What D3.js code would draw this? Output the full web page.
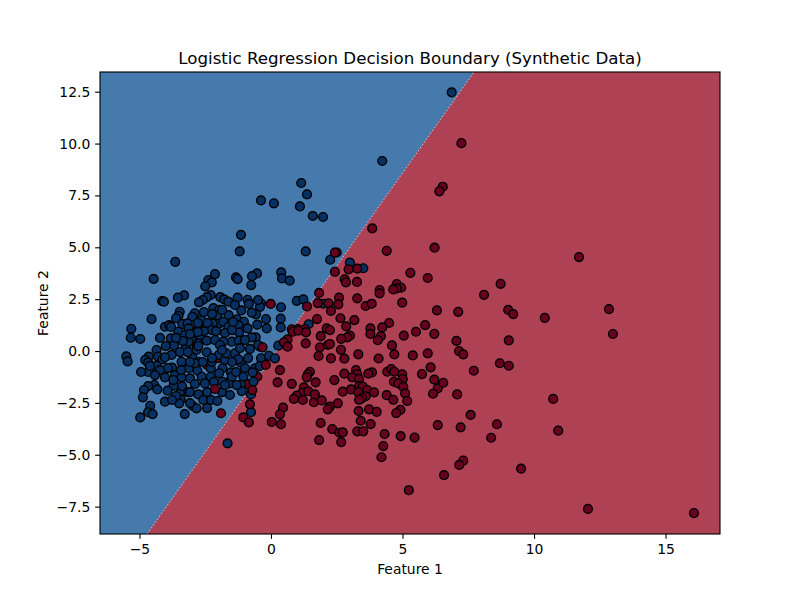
<!DOCTYPE html>
<html>
<head>
<meta charset="utf-8">
<script src="https://cdn.jsdelivr.net/npm/d3@7"></script>
<style>
  body { margin: 0; background: #fff; }
  text { font-family: "DejaVu Sans", sans-serif; fill: #000; }
</style>
</head>
<body>
<div id="chart"></div>
<script>
// axis limits and ticks
const xLimits = [-6.5, 17.07];
const yLimits = [-8.82, 13.45];
const xTicks = [-5, 0, 5, 10, 15];
const yTicks = [-7.5, -5, -2.5, 0, 2.5, 5, 7.5, 10, 12.5];

// decision boundary, read where it leaves the axes
const boundaryX = [-4.71, 7.72];
const boundaryY = [-8.82, 13.45];

// class 1 points that sit underneath the blue cloud
const redBehind = [[-2.42,-0.67],[-1.98,-0.34],[-0.52,-1.24],[-0.91,-1.60]];

// class 0 points [feature 1, feature 2]
const bluePoints = [
  [6.87,12.47],[4.23,9.16],[1.15,8.10],[1.37,7.55],[-0.38,7.26],[0.11,7.12],[1.10,6.97],[1.59,6.51],[1.98,6.46],
  [-1.14,5.60],[-1.19,4.80],[1.32,4.80],[-3.64,4.30],[-4.46,3.48],[-2.13,3.71],[-2.38,3.42],[-2.25,3.31],[-2.50,3.12],
  [-2.29,2.70],[-2.44,2.60],[-2.59,2.46],[-2.74,2.35],[-3.30,2.68],[-3.54,2.57],[-4.14,2.41],[-4.07,2.38],[-1.93,2.60],
  [-1.78,2.49],[-1.62,2.38],[-2.19,2.07],[-1.97,1.98],[-2.04,1.72],[-1.61,1.73],[-3.47,1.89],[-3.52,1.69],[-2.90,1.82],
  [-2.99,1.65],[-2.65,1.48],[-3.61,1.58],[-4.54,1.54],[-5.31,1.07],[-4.03,1.17],[-3.87,1.25],[-3.80,1.16],[-3.37,1.30],
  [-3.17,1.33],[-2.76,1.17],[-3.13,1.09],[-2.00,1.30],[-2.22,1.33],[-1.81,1.41],[-1.62,1.17],[-5.33,0.64],[-4.97,0.58],
  [-5.50,-0.26],[-5.45,-0.50],[-3.81,0.61],[-3.52,0.93],[-2.78,1.35],[-2.41,1.35],[-2.25,1.01],[-1.75,0.87],[-2.44,0.50],
  [-2.13,0.53],[-3.18,0.61],[-2.83,0.53],[-3.23,0.21],[-3.69,0.27],[-4.00,0.24],[-4.35,0.05],[-4.65,-0.27],[-4.78,-0.43],
  [-4.29,-0.27],[-3.78,-0.19],[-4.13,-0.40],[-4.35,-0.71],[-4.67,-1.01],[-3.76,-0.80],[-3.40,-0.52],[-2.99,-0.32],
  [-2.83,0.18],[-2.44,-0.06],[-1.98,-0.19],[-1.75,-0.43],[-3.12,-0.83],[-2.80,-0.95],[-2.29,-0.83],[-1.84,-0.83],
  [-3.65,-1.16],[-4.03,-1.27],[-3.40,-1.27],[-3.08,-1.32],[-2.63,-1.24],[-2.29,-1.24],[-1.97,-1.07],[-1.62,-1.51],
  [-2.89,-1.59],[-2.51,-1.56],[-4.44,-1.64],[-4.67,-1.69],[-4.83,-1.88],[-4.32,-1.85],[-3.70,-1.67],[-3.93,-1.91],
  [-3.17,-1.98],[-2.76,-2.09],[-3.46,-2.04],[-4.87,-2.23],[-3.43,-2.33],[-3.49,-2.52],[-4.03,-2.44],[-2.57,-2.36],
  [-2.28,-2.36],[-2.04,-2.41],[-2.98,-2.64],[-2.83,-2.76],[-4.59,-2.64],[-4.67,-2.95],[-4.50,-3.04],[-4.97,-3.20],
  [-3.28,-3.04],[-1.33,3.55],[-1.27,3.47],[-0.53,3.74],[-0.72,3.61],[-0.75,3.18],[0.39,3.79],[0.42,3.50],[0.71,3.39],
  [-1.27,2.57],[-0.89,2.47],[-0.84,2.27],[-0.38,2.30],[-0.42,2.13],[0.38,2.11],[0.98,2.42],[1.23,2.49],[1.99,2.28],
  [2.25,4.40],[3.00,4.26],[3.51,3.99],[1.43,1.29],[0.37,1.56],[0.37,1.14],[-0.19,1.54],[-0.16,1.09],[-0.52,1.27],
  [-0.57,1.77],[-0.73,1.85],[-1.13,1.96],[-1.29,1.53],[-1.03,1.41],[-1.24,1.25],[-0.89,1.09],[-0.58,0.66],[-0.73,0.66],
  [-1.21,0.90],[-1.49,0.45],[-1.22,0.50],[-0.80,0.10],[-0.42,0.21],[-0.38,-0.35],[-0.08,-0.23],[0.15,-0.35],[0.28,0.26],
  [-1.37,-0.11],[-1.70,-0.11],[-1.15,-0.56],[-1.52,-1.03],[-0.61,-0.83],[-0.70,-1.03],[-1.05,-1.24],[-1.57,-1.56],
  [-1.14,-1.64],[-0.67,-1.48],[-1.11,-1.93],[-0.76,-2.09],[-0.76,-2.95],[-1.65,-4.45],
  [-4.03,-0.30],[-4.67,-0.56],[-3.02,0.53],[-3.14,0.45],[-2.76,0.37],[-2.83,0.05],[-3.42,-0.92],[-3.71,-1.40],[-3.27,0.77],
  [-2.83,0.93],[-2.76,-0.52],[-2.76,0.24],[-1.81,0.45],[-1.24,-0.40],[-2.25,-0.52],[-1.85,-1.48],[-1.49,-1.24],
  [-1.30,-1.64],[-2.70,0.77],[-2.89,-0.59],
  [-3.35,0.48],[-3.46,-0.05],[-3.16,-0.05],[-2.55,0.96],[-2.09,0.96],[-1.94,0.29],[-1.48,1.01],[-1.18,0.14],[-1.48,-0.53],
  [-1.86,0.05],[-2.24,-0.34],[-2.59,-0.53],[-3.08,-0.53],[-3.92,-0.82],[-3.38,-1.69],[-4.22,-0.92],[-4.41,-1.16],
  [-3.61,-2.17],[-3.08,-1.98],[-2.43,-1.98],[-2.17,-1.49],[-1.86,-1.98],[-1.56,-2.12],[-1.33,-1.01],[-0.99,0.53],
  [-0.49,0.29],[-2.78,0.92],[-2.55,1.88],[-2.24,1.78],[-1.86,1.98],[-1.37,2.22],[-3.08,0.82],[-3.61,0.63],[-4.22,0.63],
  [-4.60,-0.72],[-4.94,-1.01],[-3.76,-2.36],[-3.08,-2.51],[-2.43,-2.75],[-1.75,-1.64],[-0.42,-0.72],[-0.87,-0.34],
  [-0.99,-0.82],[-1.44,1.40],[-0.49,2.46]
];

// class 1 points [feature 1, feature 2]
const redPoints = [
  [-2.13,-1.83],[-1.90,-3.00],[-0.01,2.27],[-0.32,0.18],[-0.20,-0.67],[-0.71,-1.88],
  [3.85,5.91],[7.24,10.02],[6.53,7.92],[6.40,7.70],[4.40,4.83],[6.22,4.98],[2.50,4.75],[2.43,4.74],[2.43,3.82],[1.83,2.80],
  [1.37,2.15],[1.78,2.31],[2.19,2.30],[2.28,1.93],[1.75,1.54],[0.79,1.05],[1.02,1.06],[1.29,1.05],[2.12,1.09],[0.83,0.93],
  [1.04,0.98],[1.33,0.90],[0.63,0.56],[0.49,0.42],[0.63,0.21],[1.32,0.37],[1.89,0.72],[1.86,0.18],[2.16,0.29],[1.81,-0.24],
  [2.28,-0.35],[0.34,-0.92],[1.48,-1.00],[1.40,-1.12],[1.36,-1.27],[1.70,-1.51],[1.25,-1.75],[1.19,-2.01],[1.42,-1.94],
  [0.98,-2.15],[0.87,-2.31],[1.21,-2.36],[1.63,-2.47],[1.67,-2.09],[1.93,-2.38],[2.24,-2.68],[2.16,-2.81],[1.89,-3.47],
  [2.33,-3.76],[1.83,-4.29],[2.41,-1.40],[0.25,-1.51],[0.79,-1.58],[0.46,-2.73],[0.34,-3.05],[0.03,-3.42],[0.38,-3.53],
  [-0.80,-2.57],[-1.05,-3.20],[-0.84,-3.44],[2.95,3.94],[3.28,3.97],[5.30,3.77],[5.96,3.52],[2.80,3.46],[2.85,3.31],
  [3.27,3.33],[4.78,3.23],[4.95,3.05],[4.78,3.02],[4.65,2.97],[4.13,2.94],[4.13,2.78],[2.59,2.57],[3.28,2.54],[2.56,2.25],
  [3.60,2.17],[3.83,2.28],[4.99,2.33],[6.31,1.96],[2.64,1.58],[3.17,1.49],[2.86,1.19],[4.49,1.35],[4.23,1.14],[5.86,1.25],
  [3.78,1.09],[5.51,0.93],[6.21,0.83],[3.78,0.82],[4.18,0.72],[4.06,0.52],[5.05,0.74],[3.00,0.74],[2.90,0.66],[2.67,0.59],
  [4.60,0.27],[2.66,0.06],[3.32,-0.16],[4.69,-0.16],[5.39,-0.21],[5.96,-0.11],[4.09,-0.36],[2.79,-0.37],[2.24,1.01],[2.24,0.34],
  [3.23,-0.92],[2.79,-1.09],[3.84,-1.03],[3.70,-1.09],[4.42,-1.00],[4.57,-0.87],[4.69,-1.00],[4.99,-1.12],[6.07,-0.79],
  [5.74,-1.11],[3.28,-1.12],[3.09,-1.27],[3.35,-1.35],[5.01,-1.35],[4.67,-1.48],[6.21,-1.38],[4.84,-1.56],[3.35,-1.69],
  [5.03,-1.73],[3.49,-1.72],[6.34,-1.80],[3.04,-1.85],[2.73,-1.96],[3.66,-1.88],[3.32,-1.99],[3.92,-1.99],[5.10,-2.04],
  [6.16,-2.06],[4.40,-2.13],[3.60,-2.18],[3.45,-2.28],[3.35,-2.35],[4.65,-2.35],[5.18,-2.41],[2.54,-2.52],[3.73,-2.81],
  [3.33,-2.89],[4.02,-2.93],[4.92,-2.84],[4.76,-2.99],[3.41,-3.36],[3.79,-3.52],[6.34,-3.57],[2.60,-3.94],[2.73,-3.92],
  [3.28,-3.87],[3.51,-3.87],[4.32,-4.00],[4.93,-4.10],[5.46,-4.17],[2.67,-4.39],[4.27,-4.58],[4.20,-5.12],
  [8.73,3.24],[8.10,2.71],[7.12,1.89],[9.02,1.98],[9.21,1.78],[10.41,1.60],[7.05,0.49],[9.04,0.51],[7.15,0.00],[7.31,-0.16],
  [8.70,-0.59],[9.04,-0.71],[7.71,-0.95],[6.55,-1.53],[7.08,-2.09],[10.73,-2.31],[7.59,-3.08],[7.21,-3.68],[8.59,-3.53],
  [10.92,-3.84],[8.37,-4.18],[7.31,-5.28],[7.16,-5.49],[9.51,-5.67],[6.58,-5.98],[5.24,-6.71],[11.71,4.53],[12.85,2.02],
  [13.00,0.82],[12.05,-7.61],[16.08,-7.81]
];

// Set margins and dimensions for the SVG container
const margin = { top: 72, right: 80, bottom: 66, left: 100 };
const width = 800 - margin.left - margin.right;
const height = 600 - margin.top - margin.bottom;

const xScale = d3.scaleLinear().domain(xLimits).range([0, width]);
const yScale = d3.scaleLinear().domain(yLimits).range([height, 0]);

const root = d3.select("#chart").append("svg")
  .attr("width", 800)
  .attr("height", 600)
  .style("display", "block");

const svg = root.append("g")
  .attr("transform", `translate(${margin.left},${margin.top})`);

svg.append("clipPath").attr("id", "plot-area")
  .append("rect")
  .attr("width", width)
  .attr("height", height);

// Decision regions: blue everywhere, red to the right of the boundary
svg.append("rect")
  .attr("width", width)
  .attr("height", height)
  .attr("fill", "#4679ac");

const redRegion = [
  [boundaryX[0], boundaryY[0]],
  [boundaryX[1], boundaryY[1]],
  [xLimits[1], yLimits[1]],
  [xLimits[1], yLimits[0]]
];
svg.append("polygon")
  .attr("points", redRegion.map(d => [xScale(d[0]), yScale(d[1])].join(",")).join(" "))
  .attr("fill", "#af4155");

// the seam between the two filled regions
svg.append("line")
  .attr("x1", xScale(boundaryX[0]))
  .attr("y1", yScale(boundaryY[0]))
  .attr("x2", xScale(boundaryX[1]))
  .attr("y2", yScale(boundaryY[1]))
  .attr("stroke", "#fff")
  .attr("stroke-width", 0.7)
  .attr("stroke-dasharray", "1.5 2");

const drawPoints = (points, colour) => {
  svg.append("g")
    .attr("clip-path", "url(#plot-area)")
    .selectAll("circle")
    .data(points)
    .enter()
    .append("circle")
    .attr("cx", d => xScale(d[0]))
    .attr("cy", d => yScale(d[1]))
    .attr("r", 4.4)
    .attr("fill", colour)
    .attr("stroke", "#000")
    .attr("stroke-width", 1.39);
};

drawPoints(redBehind, "#67001f");
drawPoints(bluePoints, "#053061");
drawPoints(redPoints, "#67001f");

// Axes
const xAxis = d3.axisBottom(xScale)
  .tickValues(xTicks)
  .tickSize(4.86)
  .tickPadding(4.9)
  .tickFormat(d3.format("d"));

const yAxis = d3.axisLeft(yScale)
  .tickValues(yTicks)
  .tickSize(4.86)
  .tickPadding(4.9)
  .tickFormat(d3.format(".1f"));

const gx = svg.append("g")
  .attr("transform", `translate(0,${height})`)
  .call(xAxis);
const gy = svg.append("g").call(yAxis);

[gx, gy].forEach(g => {
  g.select(".domain").remove();
  g.selectAll(".tick line").attr("stroke", "#000").attr("stroke-width", 1.11);
  g.selectAll(".tick text").style("font-size", "13.9px").style("font-family", '"DejaVu Sans", sans-serif');
});

// Frame
svg.append("rect")
  .attr("width", width)
  .attr("height", height)
  .attr("fill", "none")
  .attr("stroke", "#000")
  .attr("stroke-width", 1.11);

// Title and axis labels
svg.append("text")
  .attr("x", width / 2)
  .attr("y", -8)
  .style("text-anchor", "middle")
  .style("font-size", "16.67px")
  .text("Logistic Regression Decision Boundary (Synthetic Data)");

svg.append("text")
  .attr("x", width / 2)
  .attr("y", height + 40)
  .style("text-anchor", "middle")
  .style("font-size", "13.9px")
  .text("Feature 1");

svg.append("text")
  .attr("transform", "rotate(-90)")
  .attr("x", -height / 2)
  .attr("y", -52)
  .style("text-anchor", "middle")
  .style("font-size", "13.9px")
  .text("Feature 2");
</script>
</body>
</html>
